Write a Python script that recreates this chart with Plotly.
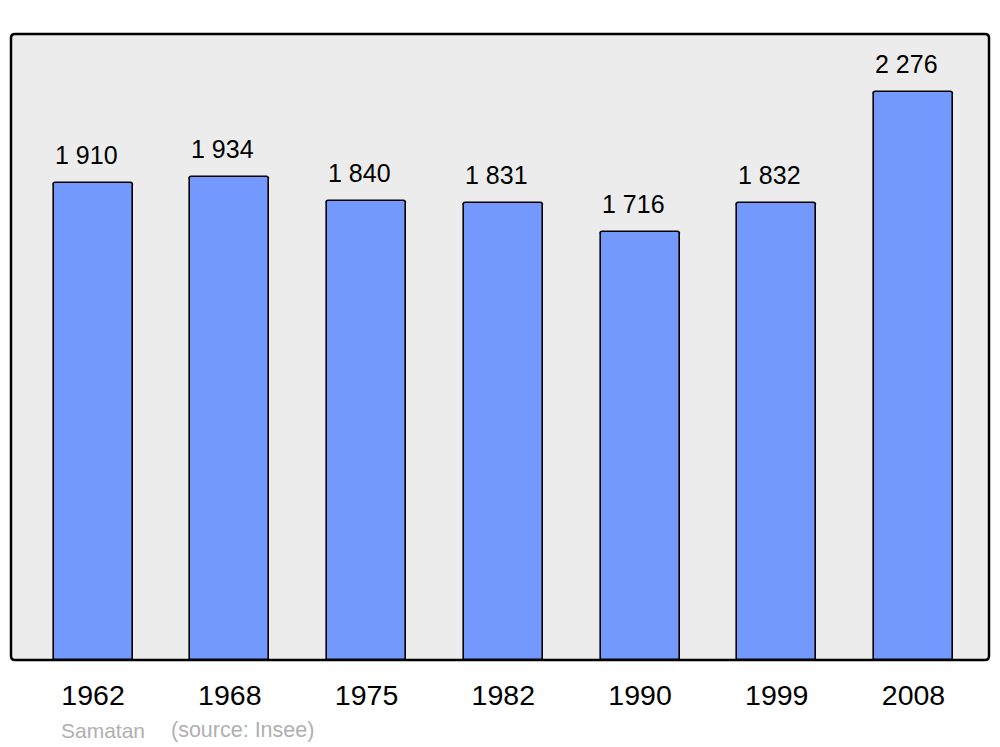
import plotly.graph_objects as go

years = ["1962", "1968", "1975", "1982", "1990", "1999", "2008"]
population = [1910, 1934, 1840, 1831, 1716, 1832, 2276]
value_labels = ["1 910", "1 934", "1 840", "1 831", "1 716", "1 832", "2 276"]

positions = list(range(len(years)))

# page offset (browser body margin) = 8px
OFF = 8
PL, PR, PT, PB = 11, 989, 34, 660  # plot area in page pixels
FW, FH = 1000 - OFF, 747 - OFF


def px(xp):
    return (xp - PL) / (PR - PL)


def py(yp):
    return (PB - yp) / (PB - PT)


FONT = "Liberation Sans, Arial, sans-serif"

fig = go.Figure()
fig.add_trace(go.Bar(
    x=positions, y=population, width=0.578,
    marker=dict(color="#7399FF", line=dict(color="black", width=1.6), cornerradius=3),
    hoverinfo="skip",
))

for xi, yi, lab in zip(positions, population, value_labels):
    fig.add_annotation(x=xi, y=yi, text=lab, showarrow=False, xref="x", yref="y",
                       yanchor="middle", yshift=28, xshift=-7,
                       font=dict(family=FONT, size=25, color="black"))

fig.add_annotation(x=px(59), y=py(730), xref="paper", yref="paper", text="Samatan", showarrow=False,
                   xanchor="left", yanchor="middle",
                   font=dict(family=FONT, size=21, color="#b0b0b0"))
fig.add_annotation(x=px(169), y=py(730), xref="paper", yref="paper", text="(source: Insee)", showarrow=False,
                   xanchor="left", yanchor="middle",
                   font=dict(family=FONT, size=21.5, color="#b0b0b0"))

# rounded plot frame
W, H = float(PR - PL), float(PB - PT)
rx, ry = 4 / W, 4 / H
path = (f"M {rx},0 L {1-rx},0 Q 1,0 1,{ry} L 1,{1-ry} Q 1,1 {1-rx},1 "
        f"L {rx},1 Q 0,1 0,{1-ry} L 0,{ry} Q 0,0 {rx},0 Z")
fig.add_shape(type="path", path=path, xref="paper", yref="paper",
              fillcolor="#ECECEC", line=dict(color="black", width=2.5), layer="below")

fig.update_layout(
    width=FW, height=FH,
    margin=dict(l=PL - OFF, r=1000 - PR, t=PT - OFF, b=747 - PB, autoexpand=False),
    paper_bgcolor="white", plot_bgcolor="rgba(0,0,0,0)",
    showlegend=False, bargap=0,
    font=dict(family=FONT, color="black"),
)
fig.update_xaxes(range=[-0.6, 6.552], tickmode="array", tickvals=positions, ticktext=years,
                 showgrid=False, zeroline=False, showline=False, ticks="",
                 tickfont=dict(size=28.5, color="black"), ticklabelstandoff=15)
fig.update_yaxes(range=[0, 2507], showgrid=False, zeroline=False, showline=False,
                 showticklabels=False, ticks="")

fig.write_html("out.html")
